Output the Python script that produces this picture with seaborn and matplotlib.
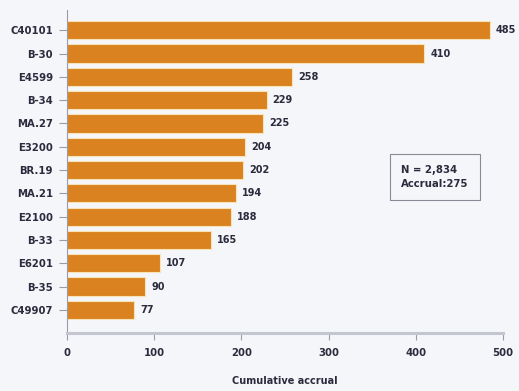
import matplotlib
matplotlib.use("Agg")
import matplotlib.pyplot as plt
import seaborn as sns
import pandas as pd

# Cumulative accrual per trial
trials = ["C40101", "B-30", "E4599", "B-34", "MA.27", "E3200", "BR.19",
          "MA.21", "E2100", "B-33", "E6201", "B-35", "C49907"]
accrual = [485, 410, 258, 229, 225, 204, 202, 194, 188, 165, 107, 90, 77]
x_ticks = [0, 100, 200, 300, 400, 500]
summary_text = "N = 2,834\nAccrual:275"
x_label = "Cumulative accrual"

sns.set_theme(style="white")
plt.rcParams["font.family"] = ["Liberation Sans Narrow", "DejaVu Sans"]
plt.rcParams["font.weight"] = "bold"

bg = "#f5f6fa"
ink = "#2b2b3d"
bar_color = "#d9821f"

df = pd.DataFrame({"trial": trials, "accrual": accrual})

fig = plt.figure(figsize=(5.19, 3.91), dpi=100, facecolor=bg)
ax = fig.add_axes([0.129, 0.148, 0.840, 0.826])
ax.set_facecolor(bg)

sns.barplot(data=df, x="accrual", y="trial", orient="h", color=bar_color,
            saturation=1, width=0.78, edgecolor="#f7e3b5", linewidth=0.8, ax=ax)

for i, v in enumerate(accrual):
    ax.text(v + 7, i, str(v), va="center", ha="left", fontsize=7,
            fontweight="bold", color=ink)

ax.set_xlim(0, 500)
ax.set_ylim(13.0, -0.86)
ax.set_xticks(x_ticks)
ax.set_xticklabels([str(t) for t in x_ticks], fontsize=7.3, fontweight="bold", color=ink)
ax.tick_params(axis="y", left=True, labelsize=7.3, labelcolor=ink, length=6,
               width=0.8, color="#9a9aa8", pad=4)
ax.tick_params(axis="x", bottom=True, length=5, width=0.8, color="#9a9aa8",
               pad=6, direction="out")
for lbl in ax.get_yticklabels():
    lbl.set_fontweight("bold")

ax.set_ylabel("")
ax.set_xlabel(x_label, fontsize=7, fontweight="bold", color=ink, labelpad=13)

for side in ["top", "right"]:
    ax.spines[side].set_visible(False)
ax.spines["left"].set_color("#9a9aa8")
ax.spines["left"].set_linewidth(0.8)
ax.spines["bottom"].set_color("#c3c5cf")
ax.spines["bottom"].set_linewidth(2.2)

ax.text(0.767, 0.483, summary_text, transform=ax.transAxes, fontsize=7.3,
        fontweight="bold", color=ink, va="center", ha="left", linespacing=1.5,
        bbox=dict(boxstyle="square,pad=1.1", facecolor=bg, edgecolor="#8a8a96",
                  linewidth=0.8))

fig.savefig("out.png", dpi=100, facecolor=bg)
